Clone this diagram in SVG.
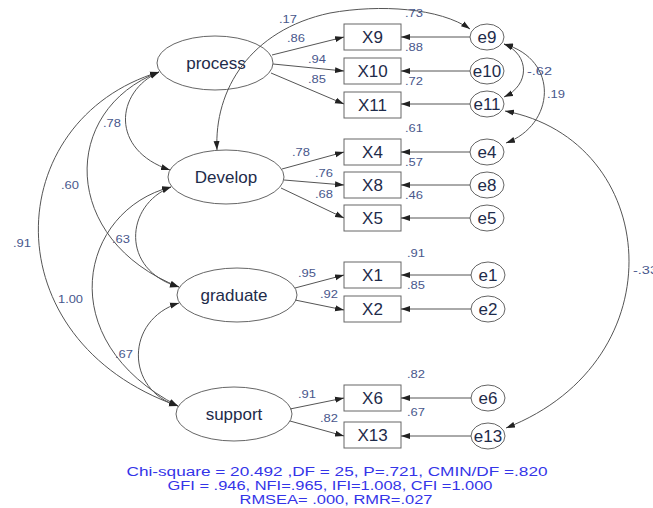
<svg xmlns="http://www.w3.org/2000/svg" width="653" height="508" viewBox="0 0 653 508">
<style>
.lat ellipse{fill:none;stroke:#666;stroke-width:1}
.obs rect{fill:#fff;stroke:#666;stroke-width:1}
.err ellipse{fill:#fff;stroke:#666;stroke-width:1}
.t{font-family:"Liberation Sans",Arial,sans-serif;font-size:17px;fill:#1e2b4a;text-anchor:middle}
.n{font-family:"Liberation Sans",Arial,sans-serif;font-size:10px;fill:#48578c}
.fit{font-family:"Liberation Sans",Arial,sans-serif;font-size:12px;fill:#3434e8;text-anchor:middle}
.c path,.c line{fill:none;stroke:#555;stroke-width:1}
.s{marker-end:url(#ah)}
.d{marker-start:url(#ah);marker-end:url(#ah)}
</style>
<defs>
<marker id="ah" markerUnits="userSpaceOnUse" markerWidth="10" markerHeight="7" refX="9" refY="3.5" orient="auto-start-reverse">
<path d="M0,0.5 L9,3.5 L0,6.5 z" fill="#222"/>
</marker>
</defs>
<rect width="653" height="508" fill="#fff"/>
<g id="process" class="lat"><ellipse cx="215" cy="63" rx="58" ry="27"/><text class="t" x="216" y="69">process</text></g>
<g id="Develop" class="lat"><ellipse cx="226" cy="177" rx="58" ry="27"/><text class="t" x="226" y="183">Develop</text></g>
<g id="graduate" class="lat"><ellipse cx="237" cy="295" rx="60" ry="27"/><text class="t" x="234" y="301">graduate</text></g>
<g id="support" class="lat"><ellipse cx="234" cy="414" rx="58" ry="27"/><text class="t" x="234" y="420">support</text></g>
<g id="X9" class="obs"><rect x="344" y="24" width="57" height="26"/><text class="t" x="372.5" y="43">X9</text></g>
<g id="X10" class="obs"><rect x="344" y="58" width="57" height="26"/><text class="t" x="372.5" y="77">X10</text></g>
<g id="X11" class="obs"><rect x="344" y="92" width="57" height="26"/><text class="t" x="372.5" y="111">X11</text></g>
<g id="X4" class="obs"><rect x="344" y="139" width="57" height="26"/><text class="t" x="372.5" y="158">X4</text></g>
<g id="X8" class="obs"><rect x="344" y="172" width="57" height="26"/><text class="t" x="372.5" y="191">X8</text></g>
<g id="X5" class="obs"><rect x="344" y="205" width="57" height="26"/><text class="t" x="372.5" y="224">X5</text></g>
<g id="X1" class="obs"><rect x="344" y="262" width="57" height="26"/><text class="t" x="372.5" y="281">X1</text></g>
<g id="X2" class="obs"><rect x="344" y="296" width="57" height="26"/><text class="t" x="372.5" y="315">X2</text></g>
<g id="X6" class="obs"><rect x="344" y="385" width="57" height="26"/><text class="t" x="372.5" y="404">X6</text></g>
<g id="X13" class="obs"><rect x="344" y="422" width="57" height="26"/><text class="t" x="372.5" y="441">X13</text></g>
<g id="e9" class="err"><ellipse cx="487" cy="37" rx="17" ry="13"/><text class="t" x="487" y="43">e9</text></g>
<g id="e10" class="err"><ellipse cx="487" cy="71" rx="17" ry="13"/><text class="t" x="487" y="77">e10</text></g>
<g id="e11" class="err"><ellipse cx="487" cy="104" rx="17" ry="13"/><text class="t" x="487" y="110">e11</text></g>
<g id="e4" class="err"><ellipse cx="487" cy="152" rx="17" ry="13"/><text class="t" x="487" y="158">e4</text></g>
<g id="e8" class="err"><ellipse cx="487" cy="185" rx="17" ry="13"/><text class="t" x="487" y="191">e8</text></g>
<g id="e5" class="err"><ellipse cx="487" cy="218" rx="17" ry="13"/><text class="t" x="487" y="224">e5</text></g>
<g id="e1" class="err"><ellipse cx="488" cy="275" rx="17" ry="13"/><text class="t" x="488" y="281">e1</text></g>
<g id="e2" class="err"><ellipse cx="488" cy="309" rx="17" ry="13"/><text class="t" x="488" y="315">e2</text></g>
<g id="e6" class="err"><ellipse cx="488" cy="398" rx="17" ry="13"/><text class="t" x="488" y="404">e6</text></g>
<g id="e13" class="err"><ellipse cx="488" cy="436" rx="17" ry="13"/><text class="t" x="488" y="442">e13</text></g>
<g id="connectors" class="c">
<line class="s" x1="272" y1="55" x2="344" y2="37"/>
<line class="s" x1="273" y1="64" x2="344" y2="71"/>
<line class="s" x1="271" y1="73" x2="344" y2="104"/>
<line class="s" x1="282" y1="169" x2="344" y2="152"/>
<line class="s" x1="284" y1="180" x2="344" y2="185"/>
<line class="s" x1="281" y1="188" x2="344" y2="218"/>
<line class="s" x1="295" y1="288" x2="344" y2="275"/>
<line class="s" x1="295" y1="300" x2="344" y2="310"/>
<line class="s" x1="290" y1="409" x2="344" y2="398"/>
<line class="s" x1="290" y1="421" x2="344" y2="436"/>
<line class="s" x1="470" y1="37" x2="401" y2="37"/>
<line class="s" x1="470" y1="71" x2="401" y2="71"/>
<line class="s" x1="470" y1="104" x2="401" y2="104"/>
<line class="s" x1="470" y1="152" x2="401" y2="152"/>
<line class="s" x1="470" y1="185" x2="401" y2="185"/>
<line class="s" x1="470" y1="218" x2="401" y2="218"/>
<line class="s" x1="471" y1="275" x2="401" y2="275"/>
<line class="s" x1="471" y1="309" x2="401" y2="309"/>
<line class="s" x1="471" y1="398" x2="401" y2="398"/>
<line class="s" x1="471" y1="436" x2="401" y2="436"/>
<path class="d" d="M159,72 C115,92 110,150 170,170"/>
<path class="d" d="M159,72 C60,110 60,240 179,287"/>
<path class="d" d="M159,72 C0,120 -10,340 178,406"/>
<path class="d" d="M171,187 C125,205 120,270 179,287"/>
<path class="d" d="M171,187 C80,210 50,340 178,406"/>
<path class="d" d="M179,303 C125,320 125,390 178,406"/>
<path class="d" d="M217,150 C214,90 250,30 330,13 C380,4 440,8 470,29"/>
<path class="d" d="M504,44 C530,55 530,85 504,97"/>
<path class="d" d="M504,44 C560,60 555,125 506,143"/>
<path class="d" d="M505,111 C660,140 680,360 506,428"/>
</g>
<g id="labels">
<text class="n" x="279" y="23" textLength="18" lengthAdjust="spacingAndGlyphs">.17</text>
<text class="n" x="405" y="17" textLength="18" lengthAdjust="spacingAndGlyphs">.73</text>
<text class="n" x="287" y="42" textLength="18" lengthAdjust="spacingAndGlyphs">.86</text>
<text class="n" x="308" y="63" textLength="18" lengthAdjust="spacingAndGlyphs">.94</text>
<text class="n" x="308" y="83" textLength="18" lengthAdjust="spacingAndGlyphs">.85</text>
<text class="n" x="405" y="51" textLength="18" lengthAdjust="spacingAndGlyphs">.88</text>
<text class="n" x="405" y="85" textLength="18" lengthAdjust="spacingAndGlyphs">.72</text>
<text class="n" x="527" y="75" textLength="25" lengthAdjust="spacingAndGlyphs">-.62</text>
<text class="n" x="547" y="98" textLength="18" lengthAdjust="spacingAndGlyphs">.19</text>
<text class="n" x="405" y="132" textLength="18" lengthAdjust="spacingAndGlyphs">.61</text>
<text class="n" x="405" y="166" textLength="18" lengthAdjust="spacingAndGlyphs">.57</text>
<text class="n" x="405" y="199" textLength="18" lengthAdjust="spacingAndGlyphs">.46</text>
<text class="n" x="292" y="156" textLength="18" lengthAdjust="spacingAndGlyphs">.78</text>
<text class="n" x="315" y="177" textLength="18" lengthAdjust="spacingAndGlyphs">.76</text>
<text class="n" x="315" y="198" textLength="18" lengthAdjust="spacingAndGlyphs">.68</text>
<text class="n" x="407" y="257" textLength="18" lengthAdjust="spacingAndGlyphs">.91</text>
<text class="n" x="407" y="289" textLength="18" lengthAdjust="spacingAndGlyphs">.85</text>
<text class="n" x="298" y="277" textLength="18" lengthAdjust="spacingAndGlyphs">.95</text>
<text class="n" x="320" y="298" textLength="18" lengthAdjust="spacingAndGlyphs">.92</text>
<text class="n" x="407" y="378" textLength="18" lengthAdjust="spacingAndGlyphs">.82</text>
<text class="n" x="407" y="416" textLength="18" lengthAdjust="spacingAndGlyphs">.67</text>
<text class="n" x="298" y="398" textLength="18" lengthAdjust="spacingAndGlyphs">.91</text>
<text class="n" x="320" y="422" textLength="18" lengthAdjust="spacingAndGlyphs">.82</text>
<text class="n" x="633" y="274" textLength="25" lengthAdjust="spacingAndGlyphs">-.33</text>
<text class="n" x="103" y="127" textLength="18" lengthAdjust="spacingAndGlyphs">.78</text>
<text class="n" x="61" y="189" textLength="18" lengthAdjust="spacingAndGlyphs">.60</text>
<text class="n" x="13" y="247" textLength="18" lengthAdjust="spacingAndGlyphs">.91</text>
<text class="n" x="112" y="243" textLength="18" lengthAdjust="spacingAndGlyphs">.63</text>
<text class="n" x="58" y="303" textLength="25" lengthAdjust="spacingAndGlyphs">1.00</text>
<text class="n" x="115" y="358" textLength="18" lengthAdjust="spacingAndGlyphs">.67</text>
</g>
<g id="fit">
<text class="fit" x="337" y="476" textLength="421" lengthAdjust="spacingAndGlyphs">Chi-square = 20.492 ,DF = 25, P=.721, CMIN/DF =.820</text>
<text class="fit" x="330" y="490" textLength="325" lengthAdjust="spacingAndGlyphs">GFI = .946, NFI=.965, IFI=1.008, CFI =1.000</text>
<text class="fit" x="336" y="504" textLength="193" lengthAdjust="spacingAndGlyphs">RMSEA= .000, RMR=.027</text>
</g>
</svg>
